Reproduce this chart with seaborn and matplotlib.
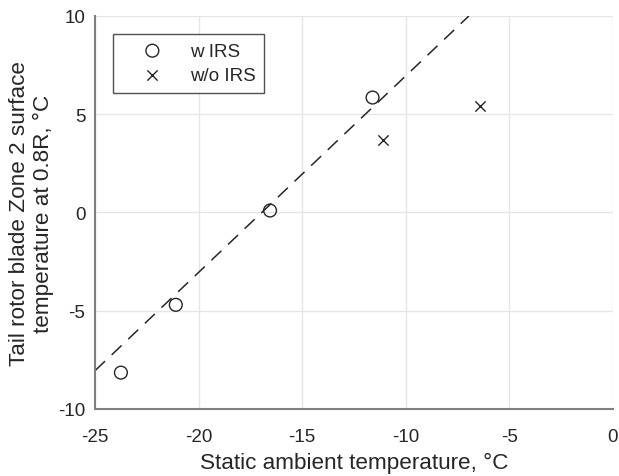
import matplotlib

matplotlib.use("Agg")
import matplotlib.pyplot as plt
import pandas as pd
import seaborn as sns

# measured points (static ambient temp vs. blade surface temp)
irs_x = [-23.75, -21.1, -16.55, -11.6]
irs_y = [-8.15, -4.7, 0.1, 5.85]
no_irs_x = [-11.1, -6.4]
no_irs_y = [3.7, 5.4]

# dashed trend line endpoints
trend_x = [-25.0, -6.95]
trend_y = [-8.05, 10.0]

x_ticks = [-25, -20, -15, -10, -5, 0]
y_ticks = [-10, -5, 0, 5, 10]

sns.set_theme(style="whitegrid")
plt.rcParams["font.family"] = ["Liberation Sans", "DejaVu Sans"]
plt.rcParams["axes.unicode_minus"] = False

INK = "#262626"
SPINE = "#7f7f7f"
TICK_FS = 13.5
LABEL_FS = 16.2

df_irs = pd.DataFrame({"x": irs_x, "y": irs_y})
df_no = pd.DataFrame({"x": no_irs_x, "y": no_irs_y})
df_trend = pd.DataFrame({"x": trend_x, "y": trend_y})


def main() -> None:
    fig = plt.figure(figsize=(6.19, 4.77), dpi=100)
    ax = fig.add_axes([0.1535, 0.1405, 0.8365, 0.8239])

    sns.lineplot(data=df_trend, x="x", y="y", ax=ax, color=INK, lw=1.1,
                 dashes=False, legend=False, zorder=2)
    ax.lines[-1].set_dashes([9, 6])

    sns.scatterplot(data=df_irs, x="x", y="y", ax=ax, marker="o", s=85,
                    facecolor="none", edgecolor=INK, linewidth=1.0,
                    label="w IRS", zorder=3)
    sns.scatterplot(data=df_no, x="x", y="y", ax=ax, marker="x", s=55,
                    color=INK, linewidth=1.0, label="w/o IRS", zorder=3)

    ax.set_xlim(-25, 0)
    ax.set_ylim(-10, 10)
    ax.set_xticks(x_ticks)
    ax.set_yticks(y_ticks)

    ax.grid(True, color="#e6e6e6", lw=1.0)
    for side in ("top", "right"):
        ax.spines[side].set_visible(False)
    for side in ("left", "bottom"):
        ax.spines[side].set_color(SPINE)
        ax.spines[side].set_linewidth(1.5)

    ax.tick_params(axis="both", direction="in", length=4, width=1,
                   color=SPINE, labelsize=TICK_FS, labelcolor=INK)
    ax.tick_params(axis="x", pad=14)
    ax.tick_params(axis="y", pad=7)

    ax.set_xlabel("Static ambient temperature, \u00b0C", fontsize=LABEL_FS,
                  color=INK, labelpad=5)
    ax.set_ylabel("Tail rotor blade Zone 2 surface\ntemperature at 0.8R, \u00b0C",
                  fontsize=LABEL_FS, color=INK, labelpad=3, linespacing=1.2)

    leg = ax.legend(loc="upper left", bbox_to_anchor=(0.0347, 0.954),
                    frameon=True, fancybox=False, fontsize=TICK_FS,
                    handletextpad=0.35, borderpad=0.45, labelspacing=0.4,
                    borderaxespad=0, handlelength=3.3)
    leg.get_frame().set_edgecolor(INK)
    leg.get_frame().set_linewidth(1.0)
    for t in leg.get_texts():
        t.set_color(INK)

    fig.savefig("out.png", dpi=100)
    plt.close(fig)


if __name__ == "__main__":
    main()
